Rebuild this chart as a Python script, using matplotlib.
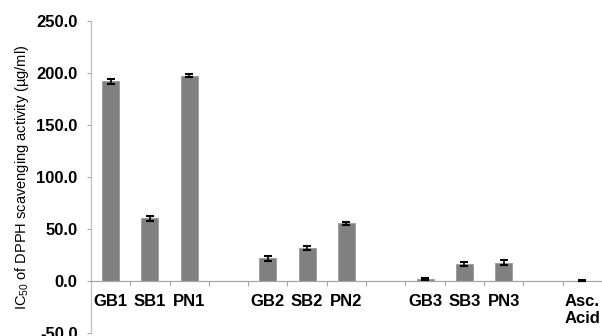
import matplotlib
matplotlib.use("Agg")
import matplotlib.pyplot as plt
import numpy as np

# categories in plotting order; empty strings are gap slots between groups
labels = ["GB1", "SB1", "PN1", "", "GB2", "SB2", "PN2", "",
          "GB3", "SB3", "PN3", "", "Asc.\nAcid"]
ic50 = [192.0, 60.5, 197.5, np.nan, 22.0, 32.0, 55.5, np.nan,
        2.0, 16.5, 17.5, np.nan, 0.4]
err = [2.0, 2.5, 1.5, np.nan, 2.5, 2.0, 1.5, np.nan,
       1.0, 2.0, 2.5, np.nan, 0.6]

plt.rcParams["font.family"] = ["Liberation Sans", "DejaVu Sans"]
plt.rcParams["font.weight"] = "bold"
plt.rcParams["mathtext.fontset"] = "custom"
plt.rcParams["mathtext.rm"] = "Liberation Sans:weight=normal"
plt.rcParams["mathtext.default"] = "rm"

fig = plt.figure(figsize=(6.02, 3.36), dpi=100)
ax = fig.add_axes([0.151, 0.009, 0.849, 0.928])

x = np.arange(len(labels))
ax.bar(x, ic50, width=0.43, color="#808080", edgecolor="#9a9a9a", linewidth=0.6,
       zorder=2)
ax.errorbar(x, ic50, yerr=err, fmt="none", ecolor="black", elinewidth=1.2,
            capsize=3, capthick=1.5, zorder=3)

ax.set_xlim(-0.5, len(labels) - 0.5)
ax.set_ylim(-50, 250)
yt = np.arange(-50, 251, 50)
ax.set_yticks(yt)
ax.set_yticklabels([f"{v:.1f}" for v in yt])

ax.set_xticks(np.arange(0.5, len(labels) - 0.5, 1), minor=True)
ax.set_xticks(x)
ax.set_xticklabels(labels)
ax.tick_params(axis="both", which="major", labelsize=12)
ax.tick_params(axis="x", which="major", length=0, pad=9)
ax.tick_params(axis="x", which="minor", length=3.5, color="#a6a6a6", width=0.8)
ax.tick_params(axis="y", length=3, color="#a6a6a6", width=0.8, pad=6.5)

for side in ("top", "right"):
    ax.spines[side].set_visible(False)
ax.spines["bottom"].set_position(("data", 0))
ax.spines["bottom"].set_color("#a6a6a6")
ax.spines["left"].set_color("#bfbfbf")
ax.spines["bottom"].set_linewidth(0.9)
ax.spines["left"].set_linewidth(0.9)

ax.set_ylabel("IC$_{50}$ of DPPH scavenging activity (\u00b5g/ml)", fontsize=10.5,
              fontweight="normal", labelpad=4)

fig.savefig("out.png", dpi=100)
